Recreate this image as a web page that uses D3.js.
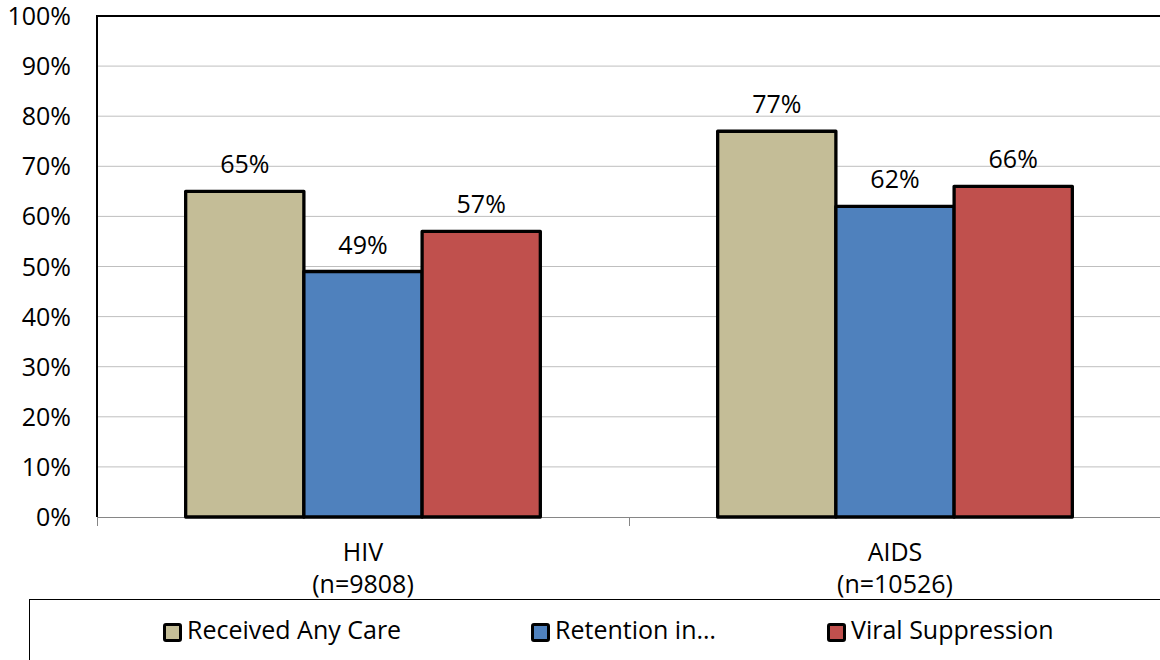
<!DOCTYPE html>
<html>
<head>
<meta charset="utf-8">
<script src="https://cdn.jsdelivr.net/npm/d3@7"></script>
<style>
  body { margin: 0; background: #fff; }
  svg { display: block; font-family: "Open Sans", Lato, sans-serif; }
</style>
</head>
<body>
<div id="chart"></div>
<script>
// chart data
const categories = ["HIV", "AIDS"];
const categoryNotes = ["(n=9808)", "(n=10526)"];
const seriesNames = ["Received Any Care", "Retention in…", "Viral Suppression"];
const receivedCare = [0.65, 0.77];
const retention = [0.49, 0.62];
const viralSuppression = [0.57, 0.66];
const yTicks = [0, 0.1, 0.2, 0.3, 0.4, 0.5, 0.6, 0.7, 0.8, 0.9, 1.0];

const seriesValues = [receivedCare, retention, viralSuppression];
const colors = ["#C4BD97", "#4F81BD", "#C0504D"];

const W = 1160, H = 660;
const plot = {left: 97, right: 1161, top: 16, bottom: 517};
const fs = 25;

const svg = d3.select("#chart").append("svg")
    .attr("width", W)
    .attr("height", H);

const y = d3.scaleLinear().domain([0, 1]).range([plot.bottom, plot.top]);
const x = d3.scaleBand().domain(categories).range([plot.left, plot.right]).padding(0);
const xs = d3.scaleBand().domain(seriesNames).range([0, x.bandwidth()])
    .paddingInner(0).paddingOuter(0.75);

// gridlines
svg.append("g").selectAll("line")
    .data(yTicks.filter(d => d > 0 && d < 1))
    .join("line")
    .attr("x1", plot.left).attr("x2", plot.right)
    .attr("y1", d => y(d)).attr("y2", d => y(d))
    .attr("stroke", "#BFBFBF").attr("stroke-width", 1);

// y tick labels
svg.append("g").selectAll("text")
    .data(yTicks)
    .join("text")
    .attr("x", 71)
    .attr("y", d => y(d))
    .attr("dy", "0.36em")
    .attr("text-anchor", "end")
    .attr("font-size", fs)
    .attr("fill", "#000")
    .text(d => d3.format(".0%")(d));

// bottom axis line + ticks
svg.append("line")
    .attr("x1", plot.left).attr("x2", plot.right)
    .attr("y1", plot.bottom + 0.5).attr("y2", plot.bottom + 0.5)
    .attr("stroke", "#868686").attr("stroke-width", 1);
const tickXs = categories.map(c => x(c)).concat([plot.right]);
svg.append("g").selectAll("line")
    .data(tickXs)
    .join("line")
    .attr("x1", d => Math.round(d) + 0.5).attr("x2", d => Math.round(d) + 0.5)
    .attr("y1", plot.bottom).attr("y2", plot.bottom + 9)
    .attr("stroke", "#868686").attr("stroke-width", 1);

// plot frame top + left
svg.append("path")
    .attr("d", `M${plot.left},${plot.bottom}V${plot.top}H${plot.right}`)
    .attr("fill", "none")
    .attr("stroke", "#000")
    .attr("stroke-width", 2);

// bars
const groups = svg.append("g").selectAll("g")
    .data(categories)
    .join("g")
    .attr("transform", c => `translate(${x(c)},0)`);

groups.selectAll("rect")
    .data((c, i) => seriesNames.map((s, k) => ({s, k, v: seriesValues[k][i]})))
    .join("rect")
    .attr("x", d => xs(d.s))
    .attr("width", xs.bandwidth())
    .attr("y", d => y(d.v))
    .attr("height", d => y(0) - y(d.v))
    .attr("fill", d => colors[d.k])
    .attr("stroke", "#000")
    .attr("stroke-width", 3.3)
    .attr("stroke-linejoin", "round");

groups.selectAll("text")
    .data((c, i) => seriesNames.map((s, k) => ({s, k, v: seriesValues[k][i]})))
    .join("text")
    .attr("x", d => xs(d.s) + xs.bandwidth() / 2)
    .attr("y", d => y(d.v) - 18)
    .attr("text-anchor", "middle")
    .attr("font-size", fs)
    .attr("fill", "#000")
    .text(d => d3.format(".0%")(d.v));

// category labels
const catLabels = svg.append("g").selectAll("text")
    .data(categories)
    .join("text")
    .attr("text-anchor", "middle")
    .attr("font-size", fs)
    .attr("fill", "#000");
catLabels.append("tspan")
    .attr("x", c => x(c) + x.bandwidth() / 2)
    .attr("y", 561)
    .text(c => c);
catLabels.append("tspan")
    .attr("x", c => x(c) + x.bandwidth() / 2)
    .attr("y", 593)
    .text((c, i) => categoryNotes[i]);

// legend box
svg.append("rect")
    .attr("x", 29.5).attr("y", 599.5)
    .attr("width", W).attr("height", 100)
    .attr("fill", "none")
    .attr("stroke", "#000")
    .attr("stroke-width", 1);

const legendX = [163, 531, 827];
const legend = svg.append("g").selectAll("g")
    .data(seriesNames)
    .join("g")
    .attr("transform", (d, i) => `translate(${legendX[i]},623)`);
legend.append("rect")
    .attr("x", 1.5).attr("y", 1.5)
    .attr("width", 16).attr("height", 16)
    .attr("rx", 1.5)
    .attr("fill", (d, i) => colors[i])
    .attr("stroke", "#000")
    .attr("stroke-width", 3);
legend.append("text")
    .attr("x", 24)
    .attr("y", 16)
    .attr("font-size", fs)
    .attr("fill", "#000")
    .text(d => d);
</script>
</body>
</html>
